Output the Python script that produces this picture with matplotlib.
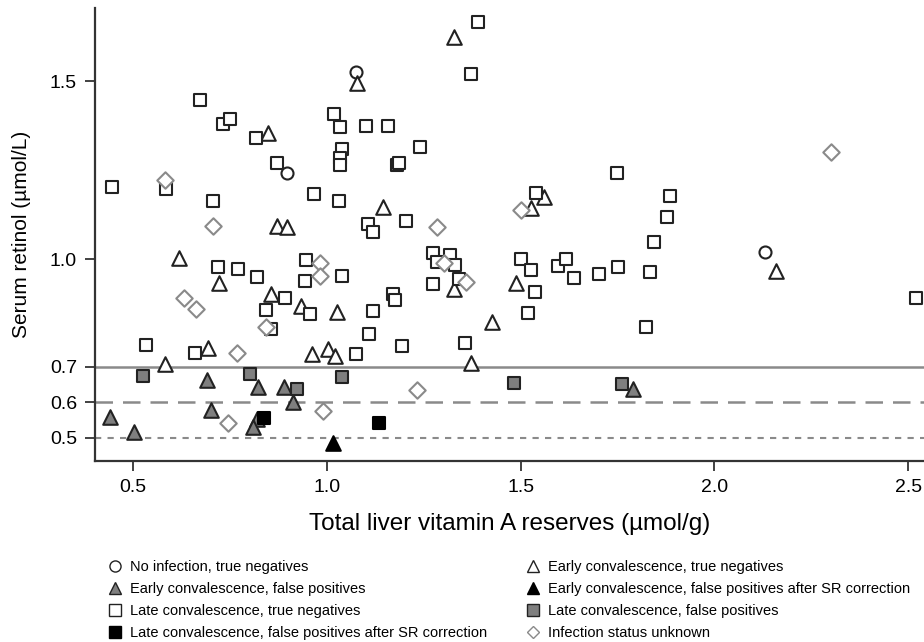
import matplotlib
matplotlib.use("Agg")
import matplotlib.pyplot as plt
from matplotlib.lines import Line2D

# liver reserves (x) and serum retinol (y), one pair of lists per group
no_inf_x = [0.898, 1.076, 2.131]
no_inf_y = [1.243, 1.526, 1.022]

early_tn_x = [0.849, 0.872, 0.896, 1.079, 1.145, 1.327, 1.528, 1.560, 0.619, 0.722, 0.857, 0.932,
              1.027, 0.692, 0.582, 0.962, 1.003, 1.021, 1.328, 1.489, 1.427, 1.373, 2.159]
early_tn_y = [1.353, 1.094, 1.090, 1.495, 1.146, 1.624, 1.143, 1.174, 1.003, 0.935, 0.903, 0.869,
              0.854, 0.753, 0.706, 0.735, 0.748, 0.730, 0.917, 0.933, 0.826, 0.709, 0.969]

early_fp_x = [0.690, 0.821, 0.890, 0.912, 0.701, 0.441, 0.503, 0.819, 0.810, 1.789]
early_fp_y = [0.661, 0.644, 0.644, 0.602, 0.578, 0.560, 0.518, 0.552, 0.530, 0.637]

early_fp_sr_x = [1.016]
early_fp_sr_y = [0.485]

late_tn_x = [0.445, 0.584, 0.673, 0.731, 0.750, 0.705, 0.816, 0.870, 0.967, 1.030, 1.019, 1.034,
             1.100, 1.158, 1.040, 1.035, 1.035, 1.107, 1.119, 1.390, 1.373, 1.240, 1.180, 1.186,
             1.748, 1.886, 1.877, 1.843, 1.205, 1.540, 0.720, 0.770, 0.819, 0.945, 0.943, 1.038,
             0.892, 0.843, 0.956, 1.119, 1.171, 1.177, 0.857, 1.109, 0.534, 0.660, 1.074, 1.274,
             1.317, 1.284, 1.330, 1.274, 1.340, 1.502, 1.526, 1.596, 1.617, 1.639, 1.702, 1.751,
             1.834, 1.537, 1.519, 1.824, 1.195, 1.357, 2.521]
late_tn_y = [1.203, 1.197, 1.447, 1.380, 1.395, 1.165, 1.339, 1.271, 1.183, 1.165, 1.408, 1.372,
             1.374, 1.374, 1.310, 1.285, 1.265, 1.099, 1.078, 1.666, 1.521, 1.316, 1.265, 1.270,
             1.241, 1.178, 1.120, 1.049, 1.109, 1.187, 0.978, 0.973, 0.950, 0.999, 0.941, 0.955,
             0.891, 0.859, 0.847, 0.857, 0.903, 0.886, 0.806, 0.791, 0.761, 0.739, 0.735, 1.017,
             1.013, 0.992, 0.985, 0.931, 0.944, 1.000, 0.971, 0.982, 1.000, 0.949, 0.958, 0.978,
             0.966, 0.910, 0.849, 0.810, 0.759, 0.767, 0.891]

late_fp_x = [0.525, 0.802, 0.924, 1.040, 1.482, 1.762]
late_fp_y = [0.674, 0.679, 0.638, 0.672, 0.653, 0.650]

late_fp_sr_x = [0.838, 1.134]
late_fp_sr_y = [0.557, 0.541]

unknown_x = [0.582, 0.707, 1.283, 1.502, 2.300, 0.982, 0.982, 0.630, 0.662, 0.843, 0.767, 0.744,
             0.989, 1.233, 1.302, 1.360]
unknown_y = [1.223, 1.094, 1.092, 1.139, 1.302, 0.989, 0.955, 0.891, 0.860, 0.810, 0.737, 0.543,
             0.576, 0.634, 0.989, 0.938]

x_ticks = [0.5, 1.0, 1.5, 2.0, 2.5]
y_ticks = [0.5, 0.6, 0.7, 1.0, 1.5]
cutoffs = [0.7, 0.6, 0.5]

plt.rcParams['font.family'] = ['Liberation Sans', 'DejaVu Sans']

dark = '#222222'
grey = '#7f7f7f'

fig = plt.figure(figsize=(9.24, 6.42), dpi=100)
ax = fig.add_axes([0.103, 0.282, 0.897, 0.7055])

ax.axhline(cutoffs[0], color='#8a8a8a', lw=1.8, zorder=1)
ax.axhline(cutoffs[1], color='#8a8a8a', lw=1.8, ls=(0, (7, 4)), zorder=1)
ax.axhline(cutoffs[2], color='#8a8a8a', lw=1.5, ls=(0, (3, 3)), zorder=1)

groups = [
    (no_inf_x, no_inf_y, 'o', 'white', dark, 75, 'No infection, true negatives'),
    (early_tn_x, early_tn_y, '^', 'white', dark, 110, 'Early convalescence, true negatives'),
    (early_fp_x, early_fp_y, '^', grey, dark, 110, 'Early convalescence, false positives'),
    (early_fp_sr_x, early_fp_sr_y, '^', 'black', 'black', 110,
     'Early convalescence, false positives after SR correction'),
    (late_tn_x, late_tn_y, 's', 'white', dark, 85, 'Late convalescence, true negatives'),
    (late_fp_x, late_fp_y, 's', grey, dark, 85, 'Late convalescence, false positives'),
    (late_fp_sr_x, late_fp_sr_y, 's', 'black', 'black', 85,
     'Late convalescence, false positives after SR correction'),
    (unknown_x, unknown_y, 'D', 'white', '#8a8a8a', 70, 'Infection status unknown'),
]

handles = {}
for xs, ys, m, fc, ec, s, lab in groups:
    ax.scatter(xs, ys, marker=m, s=s, facecolor=fc, edgecolor=ec, linewidths=1.5, zorder=3)
    ms = 8 if m != 'D' else 6.5
    handles[lab] = Line2D([], [], ls='none', marker=m, markersize=ms, markerfacecolor=fc,
                          markeredgecolor=ec, markeredgewidth=1.0)

ax.set_xlim(0.402, 2.541)
ax.set_ylim(0.4356, 1.7045)
ax.set_xticks(x_ticks)
ax.set_xticklabels([f'{v:.1f}' for v in x_ticks])
ax.set_yticks(y_ticks)
ax.set_yticklabels([f'{v:.1f}' for v in y_ticks])
ax.tick_params(direction='out', length=7, width=1.3, color='#333333', labelsize=14, pad=6)

for side in ['top', 'right']:
    ax.spines[side].set_visible(False)
for side in ['left', 'bottom']:
    ax.spines[side].set_color('#333333')
    ax.spines[side].set_linewidth(1.6)

ax.set_xlabel('Total liver vitamin A reserves (µmol/g)', fontsize=17.5, labelpad=12)
ax.set_ylabel('Serum retinol (µmol/L)', fontsize=15, labelpad=14)

left_col = [
    'No infection, true negatives',
    'Early convalescence, false positives',
    'Late convalescence, true negatives',
    'Late convalescence, false positives after SR correction',
]
right_col = [
    'Early convalescence, true negatives',
    'Early convalescence, false positives after SR correction',
    'Late convalescence, false positives',
    'Infection status unknown',
]
for col, x0 in [(left_col, 108 / 924), (right_col, 526 / 924)]:
    leg = fig.legend([handles[k] for k in col], col, loc='upper left',
                     bbox_to_anchor=(x0, 0.128), frameon=False, fontsize=10.5,
                     handletextpad=0.5, handlelength=1.0, labelspacing=0.55,
                     borderaxespad=0, borderpad=0)

fig.savefig('out.png', dpi=100)
